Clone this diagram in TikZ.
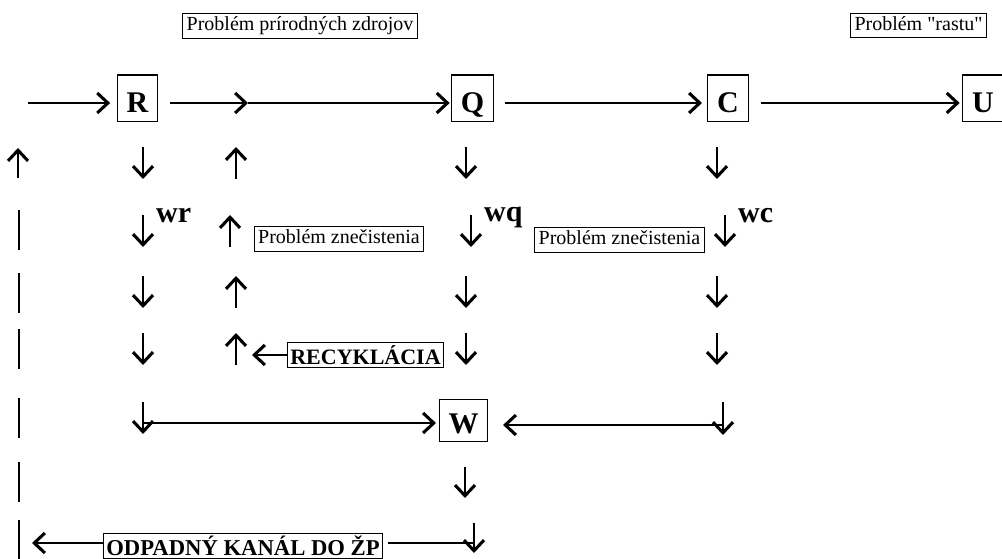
\documentclass[tikz,border=0pt]{standalone}
\usepackage{fontspec}
\setmainfont{Liberation Serif}[Ligatures=TeXOff]
\usetikzlibrary{arrows.meta}

\begin{document}
\begin{tikzpicture}[x=0.75pt,y=-0.75pt,line width=1.7pt,>={Straight Barb[length=8pt,width=15pt,line width=2.3pt]},
		letter/.style={draw,line width=0.8pt,inner xsep=7pt,inner ysep=0pt,text height=28.5pt,text depth=6.5pt,anchor=base,font=\bfseries\fontsize{22.5}{27}\selectfont},
		note/.style={draw,line width=0.8pt,inner xsep=3pt,inner ysep=2pt,text height=11pt,text depth=3.5pt,font=\fontsize{15}{18}\selectfont},
		tag/.style={draw,line width=0.8pt,inner xsep=2pt,inner ysep=1pt,text height=15pt,text depth=1.5pt,font=\bfseries\fontsize{#1}{20}\selectfont},
		wlabel/.style={anchor=base west,inner sep=0pt,font=\bfseries\fontsize{22.5}{27}\selectfont}]
	\useasboundingbox (0,0) rectangle (1002,559);
	\node[note] (zdroje) at (300,26) {Problém prírodných zdrojov};
	\node[note] (rast) at (918.5,25.5) {Problém "rastu"};
	\node[letter] (R) at (137.5,113) {R};
	\node[letter] (Q) at (472.5,113) {Q};
	\node[letter] (C) at (728,113) {C};
	\node[letter] (U) at (983,113) {U};
	\node[letter,text height=25pt] (W) at (463.5,433) {W};
	\node[wlabel] (wr) at (155,223) {wr};
	\node[wlabel] (wq) at (483,222) {wq};
	\node[wlabel] (wc) at (737,223) {wc};
	\node[note] (zn1) at (339,239) {Problém znečistenia};
	\node[note] (zn2) at (619.5,240) {Problém znečistenia};
	\node[tag=16.5] (recyk) at (365.5,355) {RECYKLÁCIA};
	\node[tag=17] (odpad) at (243,546) {ODPADNÝ KANÁL DO ŽP};
	\coordinate (in) at (28,103);
	\coordinate (mid) at (248,103);
	\coordinate (rw) at (143,423);
	\coordinate (cw) at (723,425);
	\coordinate (rc) at (252,355);
	\coordinate (qo) at (474,543);
	\coordinate (lo) at (32,543);
	\draw[->,shorten >=5pt] (in) -- (R.west |- in);
	\draw[->,shorten <=9pt] (R.east |- in) -- (mid);
	\draw[->,shorten >=1pt] (mid) -- (Q.west |- in);
	\draw[->,shorten <=8pt,shorten >=4pt] (Q.east |- in) -- (C.west |- in);
	\draw[->,shorten <=9pt,shorten >=2pt] (C.east |- in) -- (U.west |- in);
	\draw[->,shorten >=2pt] (rw) -- (W.west |- rw);
	\draw[->,shorten >=11pt] (cw) -- (W.east |- cw);
	\draw[->] (recyk.west) -- (rc);
	\draw[shorten >=4pt] (qo) -- (odpad.east |- qo);
	\draw[->] (odpad.west |- qo) -- (lo);
	\foreach \y in {163,292,349} {
		\draw[->] (143,\y-16) -- (143,\y+16);
		\draw[->] (236,\y+16) -- (236,\y-16);
		\draw[->] (466,\y-16) -- (466,\y+16);
		\draw[->] (717,\y-16) -- (717,\y+16);
	}
	\draw[->] (143,215) -- (143,247);
	\draw[->] (230,247) -- (230,215);
	\draw[->] (471,215) -- (471,247);
	\draw[->] (725,215) -- (725,247);
	\draw[->] (143,402) -- (143,434);
	\draw[->] (723,402) -- (723,435);
	\draw[->] (465,467) -- (465,498);
	\draw[->] (474,523) -- (474,553);
	\draw[->] (18,178) -- (18,148);
	\foreach \y in {230,293,349,418,482,540}
		\draw[line width=2.2pt] (19,\y-20) -- (19,\y+20);
\end{tikzpicture}
\end{document}
